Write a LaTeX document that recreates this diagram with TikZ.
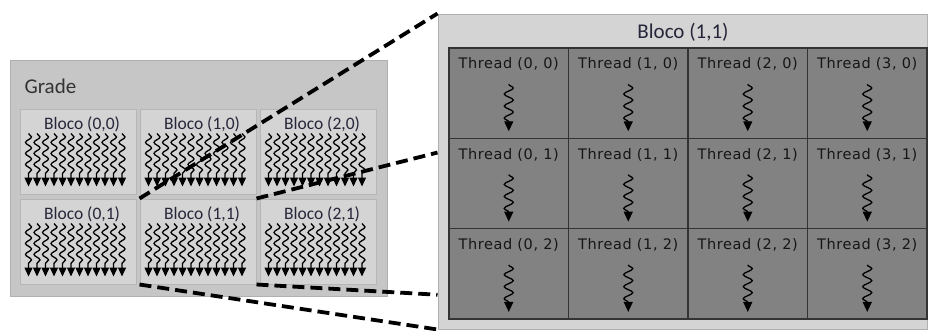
\documentclass[tikz,border=0pt]{standalone}
\usepackage{fontspec}
\setmainfont{Carlito}
\newfontfamily\thrfont[LetterSpace=4]{DejaVu Sans}
\usetikzlibrary{arrows.meta,decorations.pathmorphing,calc,positioning}
\definecolor{gradefill}{RGB}{198,198,198}
\definecolor{gradeline}{RGB}{176,176,176}
\definecolor{blocofill}{RGB}{212,212,212}
\definecolor{blocoline}{RGB}{182,182,182}
\definecolor{bigfill}{RGB}{212,212,212}
\definecolor{cellfill}{RGB}{130,130,130}
\definecolor{celltext}{RGB}{22,22,22}
\definecolor{blocotext}{RGB}{38,38,58}

\begin{document}
\begin{tikzpicture}[x=1pt,y=-1pt,
    grade/.style={draw=gradeline,fill=gradefill,line width=1pt,inner sep=0pt,
      minimum width=377pt,minimum height=236pt},
    bloco/.style={draw=blocoline,fill=blocofill,line width=1pt,inner sep=0pt,
      minimum width=116pt,minimum height=85pt},
    big/.style={draw=gradeline,fill=bigfill,line width=1pt,inner sep=0pt,
      minimum width=489pt,minimum height=315pt},
    cell/.style={draw=black!80,fill=cellfill,line width=1.5pt,inner sep=0pt,
      minimum width=119.5pt,minimum height=90.3pt},
    wave/.style={line width=1.3pt,-{Triangle[width=8pt,length=9pt]},decorate,
      decoration={snake,amplitude=3pt,segment length=11pt,post length=8pt}},
    thr/.style={line width=1.3pt,-{Triangle[width=9pt,length=10pt]},decorate,
      decoration={snake,amplitude=4.5pt,segment length=12pt,post length=9pt}},
    zoomline/.style={line width=3.8pt,dash pattern=on 12pt off 6pt}]
  \useasboundingbox (0,0) rectangle (928,330);
  % grade with its six blocks
  \node[grade] (grade) at (198.5,178) {};
  \node[anchor=west,font=\fontsize{21}{21}\selectfont,text=black!80] (gradelbl) at (21,86) {Grade};
  \foreach \i in {0,1,2}{
    \foreach \j in {0,1}{
      \node[bloco] (b\i\j) at (78+120*\i,151.5+90*\j) {};
      \node[font=\fontsize{17.5}{18}\selectfont,text=blocotext] (lbl\i\j)
        at ([xshift=4pt,yshift=-16pt]b\i\j.north) {Bloco (\i,\j)};
      \foreach \k in {0,...,11}
        \draw[wave] ($(b\i\j.north west)+(9+8.5*\k,25)$) -- ++(0,53);
    }
  }
  % block (1,1) drawn large
  \node[big] (big) at (682.5,171.5) {};
  \node[font=\fontsize{21}{21}\selectfont,text=blocotext] (biglbl) at (683,32) {Bloco (1,1)};
  \foreach \i in {0,...,3}{
    \foreach \j in {0,1,2}{
      \node[cell] (t\i\j) at (508.75+119.5*\i,93.2+90.3*\j) {};
      \node[font=\thrfont\fontsize{14.5}{15}\selectfont,text=celltext] (tl\i\j)
        at ([yshift=-17pt]t\i\j.north) {Thread (\i, \j)};
      \draw[thr] ($(t\i\j.north)+(0,37)$) -- ++(0,47);
    }
  }
  % zoom lines
  \coordinate (e2) at ($(big.north west)!0.44!(big.south west)$);
  \coordinate (e3) at ($(big.north west)!0.89!(big.south west)$);
  \draw[zoomline] (b11.north west) -- (big.north west);
  \draw[zoomline] (b11.north east) -- (e2);
  \draw[zoomline] (b11.south east) -- (e3);
  \draw[zoomline] (b11.south west) -- (big.south west);
\end{tikzpicture}
\end{document}
